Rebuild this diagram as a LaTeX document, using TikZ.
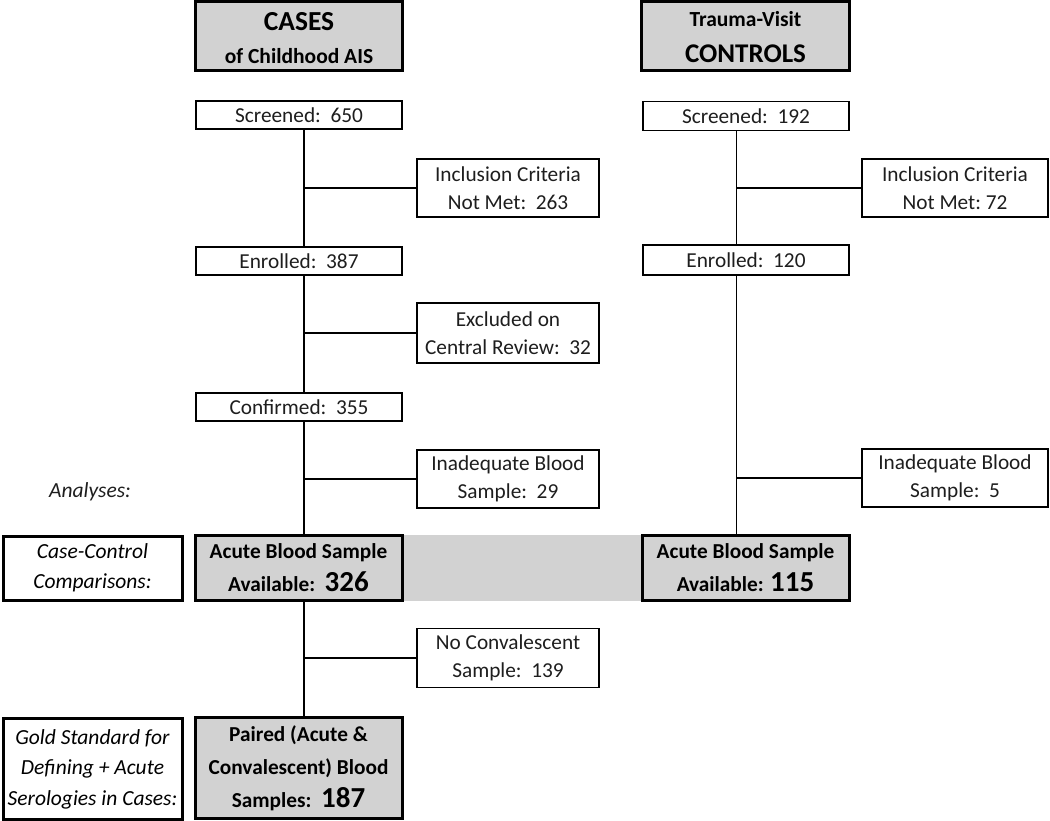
\documentclass[tikz,border=0pt]{standalone}
\usepackage{fontspec}
\setmainfont{Carlito}
\definecolor{boxgray}{RGB}{210,210,210}
\definecolor{txt}{RGB}{30,30,30}
\begin{document}
\begin{tikzpicture}[x=1pt,y=-1pt,
  thinbox/.style={draw=black,line width=1.4pt,fill=white,inner sep=0pt,align=center,
    text=txt,font=\fontsize{21.3}{28}\selectfont},
  graybox/.style={draw=black,line width=3pt,fill=boxgray,inner sep=0pt,align=center,
    font=\bfseries\fontsize{21.3}{33}\selectfont},
  labelbox/.style={draw=black,line width=3pt,fill=white,inner sep=0pt,align=center,
    font=\itshape\fontsize{21.5}{30.5}\selectfont},
  conn/.style={draw=black,line width=1.8pt}]
\useasboundingbox (0,0) rectangle (1050,821);
\fill[boxgray] (402,535) rectangle (641,601);
% headers
\node[graybox,minimum width=207pt,minimum height=69pt] (hcase) at (299,36)
  {\rule{0pt}{23pt}{\fontsize{27.5}{30}\selectfont CASES}\\{\fontsize{21.5}{24}\selectfont of Childhood AIS}};
\node[graybox,minimum width=208pt,minimum height=69pt] (hctrl) at (745.5,36)
  {\rule{0pt}{18pt}{\fontsize{21.5}{22}\selectfont Trauma-Visit}\\[3pt]{\fontsize{27}{30}\selectfont CONTROLS}};
% cases column
\coordinate (cx) at (304,0);
\node[thinbox,minimum width=206pt,minimum height=28pt] (s1) at (299,115) {Screened:\ \ 650};
\node[thinbox,minimum width=182pt,minimum height=58pt] (i1) at (508,188) {Inclusion Criteria\\Not Met:\ \ 263};
\node[thinbox,minimum width=206pt,minimum height=28pt] (e1) at (299,261) {Enrolled:\ \ 387};
\node[thinbox,minimum width=182pt,minimum height=60pt] (x1) at (508,333) {Excluded on\\Central Review:\ \ 32};
\node[thinbox,minimum width=206pt,minimum height=28pt] (c1) at (299,407) {Confirmed:\ \ 355};
\node[thinbox,minimum width=182pt,minimum height=58pt] (b1) at (508,479) {Inadequate Blood\\Sample:\ \ 29};
\node[graybox,minimum width=207pt,minimum height=65pt] (a1) at (298.5,568)
  {Acute Blood Sample\\Available:\ \ {\fontsize{29}{30}\selectfont 326}};
\node[thinbox,minimum width=182pt,minimum height=59pt] (n1) at (508,658) {No Convalescent\\Sample:\ \ 139};
\node[graybox,minimum width=207pt,minimum height=101pt] (p1) at (298.5,768)
  {Paired (Acute \&\\Convalescent) Blood\\Samples:\ \ {\fontsize{29}{30}\selectfont 187}};
% controls column
\coordinate (kx) at (736.5,0);
\node[thinbox,minimum width=206pt,minimum height=29pt] (s2) at (746,116) {Screened:\ \ 192};
\node[thinbox,minimum width=186pt,minimum height=58pt] (i2) at (955,188) {Inclusion Criteria\\Not Met:\ 72};
\node[thinbox,minimum width=206pt,minimum height=30pt] (e2) at (746,260) {Enrolled:\ \ 120};
\node[thinbox,minimum width=186pt,minimum height=58pt] (b2) at (955,478) {Inadequate Blood\\Sample:\ \ 5};
\node[graybox,minimum width=207pt,minimum height=65pt] (a2) at (745.5,568)
  {Acute Blood Sample\\Available: {\fontsize{29}{30}\selectfont 115}};
% left labels
\node[font=\itshape\fontsize{21.5}{24}\selectfont,text=txt] (an) at (90,492) {Analyses:};
\node[labelbox,minimum width=179pt,minimum height=64pt] (cc) at (92.5,568) {Case-Control\\Comparisons:};
\node[labelbox,minimum width=179pt,minimum height=101pt] (gs) at (92.5,769)
  {Gold Standard for\\Defining + Acute\\Serologies in Cases:};
% connectors cases
\draw[conn] (s1.south -| cx) -- (e1.north -| cx);
\draw[conn] (e1.south -| cx) -- (c1.north -| cx);
\draw[conn] (c1.south -| cx) -- (a1.north -| cx);
\draw[conn] (a1.south -| cx) -- (p1.north -| cx);
\draw[conn] (i1.west) -- (i1.west -| cx);
\draw[conn] (x1.west) -- (x1.west -| cx);
\draw[conn] (b1.west) -- (b1.west -| cx);
\draw[conn] (n1.west) -- (n1.west -| cx);
% connectors controls
\draw[conn] (s2.south -| kx) -- (e2.north -| kx);
\draw[conn] (e2.south -| kx) -- (a2.north -| kx);
\draw[conn] (i2.west) -- (i2.west -| kx);
\draw[conn] (b2.west) -- (b2.west -| kx);
\end{tikzpicture}
\end{document}
